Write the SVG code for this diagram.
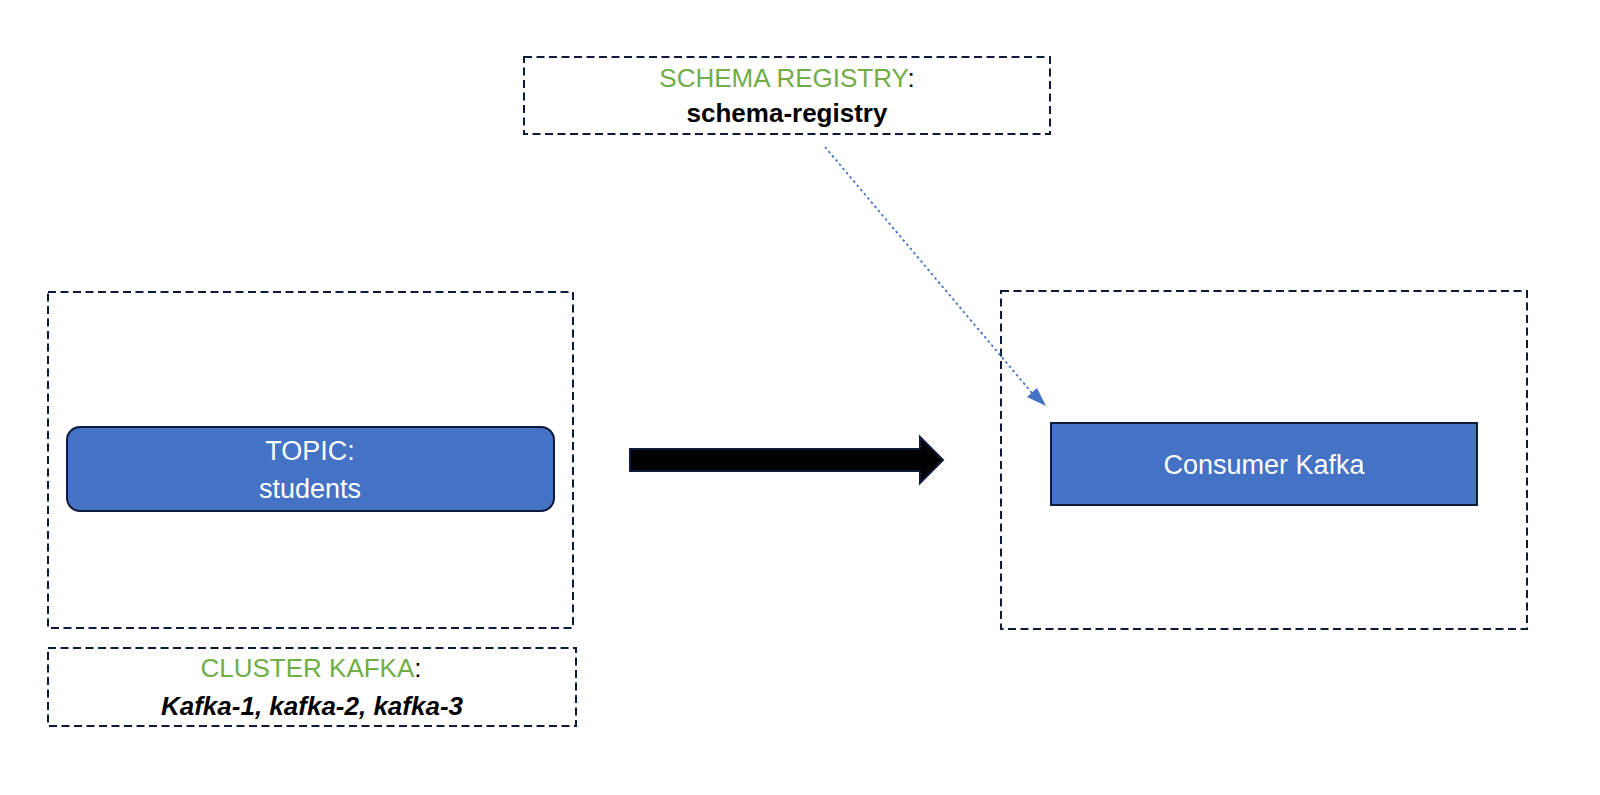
<svg xmlns="http://www.w3.org/2000/svg" width="1600" height="795" viewBox="0 0 1600 795">
<style>
.frame{fill:none;stroke:#0E1A3A;stroke-width:2;stroke-dasharray:8 4.5}
.blue{fill:#4472C4;stroke:#0E1A3A;stroke-width:2}
.t{font-family:"Liberation Sans",Arial,sans-serif;text-anchor:middle}
.w{fill:#FFFFFF;font-size:27px}
.g{fill:#70AD47}
.k{fill:#000000}
.lbl{font-size:26px}
.b{font-weight:bold;font-size:26px}
</style>
<rect width="1600" height="795" fill="#FFFFFF"/>

<g id="schema-registry">
<rect class="frame" x="524" y="57" width="526" height="77"/>
<text class="t lbl" x="787" y="87"><tspan class="g">SCHEMA REGISTRY</tspan><tspan class="k">:</tspan></text>
<text class="t b k" x="787" y="122">schema-registry</text>
</g>

<g id="kafka-cluster-frame">
<rect class="frame" x="48" y="292" width="525" height="336"/>
</g>

<g id="topic-students">
<rect class="blue" x="67" y="427" width="487" height="84" rx="13" ry="13"/>
<text class="t w" x="310" y="460">TOPIC:</text>
<text class="t w" x="310" y="498">students</text>
</g>

<g id="cluster-kafka">
<rect class="frame" x="48" y="648" width="528" height="78"/>
<text class="t lbl" x="311" y="677"><tspan class="g">CLUSTER KAFKA</tspan><tspan class="k">:</tspan></text>
<text class="t b k" x="312" y="715" font-style="italic" font-size="27">Kafka-1, kafka-2, kafka-3</text>
</g>

<g id="consumer-frame">
<rect class="frame" x="1001" y="291" width="526" height="338"/>
</g>

<g id="consumer-kafka">
<rect class="blue" x="1051" y="423" width="426" height="82"/>
<text class="t w" x="1264" y="474">Consumer Kafka</text>
</g>

<g id="connectors">
<path d="M630,449 L920,449 L920,437 L943,460 L920,483 L920,471 L630,471 Z" fill="#000000" stroke="#0E1A3A" stroke-width="2" stroke-linejoin="miter"/>
<line x1="825" y1="147" x2="1032" y2="393" stroke="#4472C4" stroke-width="1.8" stroke-dasharray="2.5 3"/>
<path d="M1046,406 L1027,397 L1037,388 Z" fill="#4472C4"/>
</g>
</svg>
